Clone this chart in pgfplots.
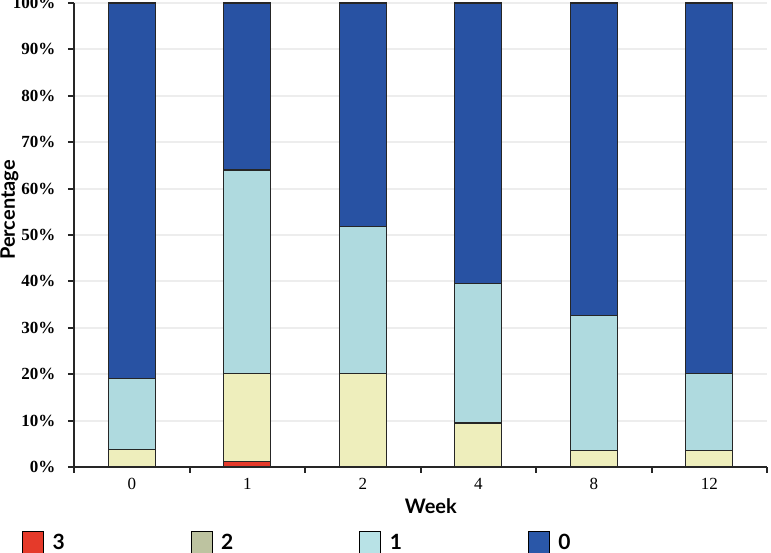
\documentclass[border=0pt]{standalone}
\usepackage{pgfplots}
\pgfplotsset{compat=1.18}
\usepackage{fontspec}
\setmainfont{Liberation Serif}
\newfontfamily\lato{Lato}
\definecolor{cRed}{HTML}{E53A2A}
\definecolor{cOlive}{HTML}{BDC3A0}
\definecolor{cYel}{HTML}{EEEEBC}
\definecolor{cCyan}{HTML}{B8E2E6}
\definecolor{cCyanB}{HTML}{AFDADF}
\definecolor{cBlue}{HTML}{2A57A8}
\definecolor{cBlueB}{HTML}{2852A3}
\definecolor{gridc}{HTML}{EDEDED}
\begin{document}
\begin{tikzpicture}
\path[use as bounding box] (-74pt,-86pt) rectangle (697pt,467pt);
\begin{axis}[
  at={(0pt,0pt)}, anchor=south west,
  scale only axis, width=693pt, height=464pt,
  ybar stacked, bar width=47pt,
  xmin=-0.5, xmax=5.5, ymin=0, ymax=100,
  axis lines*=left,
  axis line style={line width=2pt, black!85},
  ytick={0,10,...,100},
  yticklabel={\pgfmathprintnumber{\tick}\%},
  /pgf/number format/assume math mode=true,
  yticklabel style={font=\bfseries\fontsize{17}{17}\selectfont, xshift=-9pt},
  xtick={-0.5,0.5,...,5.5},
  xticklabels={},
  extra x ticks={0,1,2,3,4,5},
  extra x tick labels={0,1,2,4,8,12},
  extra x tick style={major tick length=0pt, grid=none,
     tick label style={font=\fontsize{17}{17}\selectfont, yshift=-8pt}},
  tick align=outside,
  major tick length=6pt,
  tick style={line width=2pt, black!85},
  ymajorgrids,
  grid style={line width=2pt, gridc},
  xlabel={Week},
  xlabel style={at={(axis description cs:0.515,-0.084)}, anchor=center,
     font=\lato\bfseries\fontsize{20}{20}\selectfont},
  ylabel={Percentage},
  ylabel style={at={(axis description cs:-0.093,0.554)}, anchor=center, rotate=0,
     font=\lato\bfseries\fontsize{20}{20}\selectfont},
  legend columns=4,
  legend cell align=left,
  legend image code/.code={\fill[#1] (0pt,-11pt) rectangle (21pt,11pt);},
  legend style={at={(axis description cs:-0.075,-0.162)}, anchor=west,
     draw=none, fill=none, inner sep=0pt,
     font=\lato\bfseries\fontsize{21}{21}\selectfont,
     /tikz/every odd column/.append style={column sep=7pt},
     /tikz/every even column/.append style={column sep=124pt}},
]
\addplot[forget plot, draw=black!85, line width=1.2pt, fill=cRed]
  coordinates {(0,0) (1,1.1) (2,0) (3,0) (4,0) (5,0)};
\addplot[forget plot, draw=black!85, line width=1.2pt, fill=cYel]
  coordinates {(0,3.7) (1,19.1) (2,20.2) (3,9.5) (4,3.5) (5,3.5)};
\addplot[forget plot, draw=black!85, line width=1.2pt, fill=cCyanB]
  coordinates {(0,15.3) (1,43.8) (2,31.6) (3,30.0) (4,29.2) (5,16.7)};
\addplot[forget plot, draw=black!85, line width=1.2pt, fill=cBlueB]
  coordinates {(0,81.0) (1,36.0) (2,48.2) (3,60.5) (4,67.3) (5,79.8)};
\addlegendimage{fill=cRed}
\addlegendentry{3}
\addlegendimage{fill=cOlive}
\addlegendentry{2}
\addlegendimage{fill=cCyan}
\addlegendentry{1}
\addlegendimage{fill=cBlue}
\addlegendentry{0}
\end{axis}
\end{tikzpicture}
\end{document}
